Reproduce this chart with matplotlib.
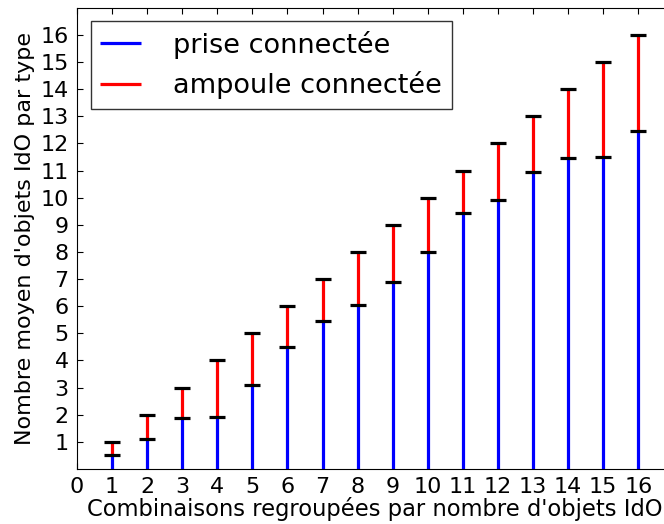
import numpy as np
import matplotlib
matplotlib.use("Agg")
import matplotlib.pyplot as plt

# nombre d'objets par combinaison
combinaisons = [1, 2, 3, 4, 5, 6, 7, 8, 9, 10, 11, 12, 13, 14, 15, 16]
prises = [0.53, 1.11, 1.87, 1.92, 3.08, 4.48, 5.44, 6.03, 6.89, 7.99, 9.44, 9.90, 10.96, 11.45, 11.50, 12.46]
totaux = [1, 2, 3, 4, 5, 6, 7, 8, 9, 10, 11, 12, 13, 14, 15, 16]
xticks = list(range(0, 17))
yticks = list(range(1, 17))

plt.rcParams['xtick.direction'] = 'in'
plt.rcParams['ytick.direction'] = 'in'
plt.rcParams['xtick.top'] = True
plt.rcParams['ytick.right'] = True

fig = plt.figure(figsize=(6.64, 5.24), dpi=100)
ax = fig.add_axes([0.116, 0.105, 0.898, 0.880])

x = np.array(combinaisons)
ax.vlines(x, 0, prises, color='blue', lw=2.3, label='prise connectée')
ax.vlines(x, prises, totaux, color='red', lw=2.3, label='ampoule connectée')
ax.plot(x, prises, '_', color='black', ms=12, mew=2.3)
ax.plot(x, totaux, '_', color='black', ms=12, mew=2.3)

ax.set_xlim(0, 17)
ax.set_ylim(0, 17)
ax.set_xticks(xticks)
ax.set_yticks(yticks)
ax.tick_params(labelsize=16, length=4, width=0.8, pad=6)
ax.set_xlabel("Combinaisons regroupées par nombre d'objets IdO", fontsize=16.3, labelpad=0)
ax.set_ylabel("Nombre moyen d'objets IdO par type", fontsize=16, labelpad=4)

leg = ax.legend(loc='upper left', fontsize=19.5, fancybox=False, borderaxespad=0.5,
                handlelength=1.5, handletextpad=1.2, borderpad=0.35, labelspacing=0.45)
leg.get_frame().set_edgecolor('black')
leg.get_frame().set_linewidth(1.0)

fig.savefig('out.png', dpi=100)
